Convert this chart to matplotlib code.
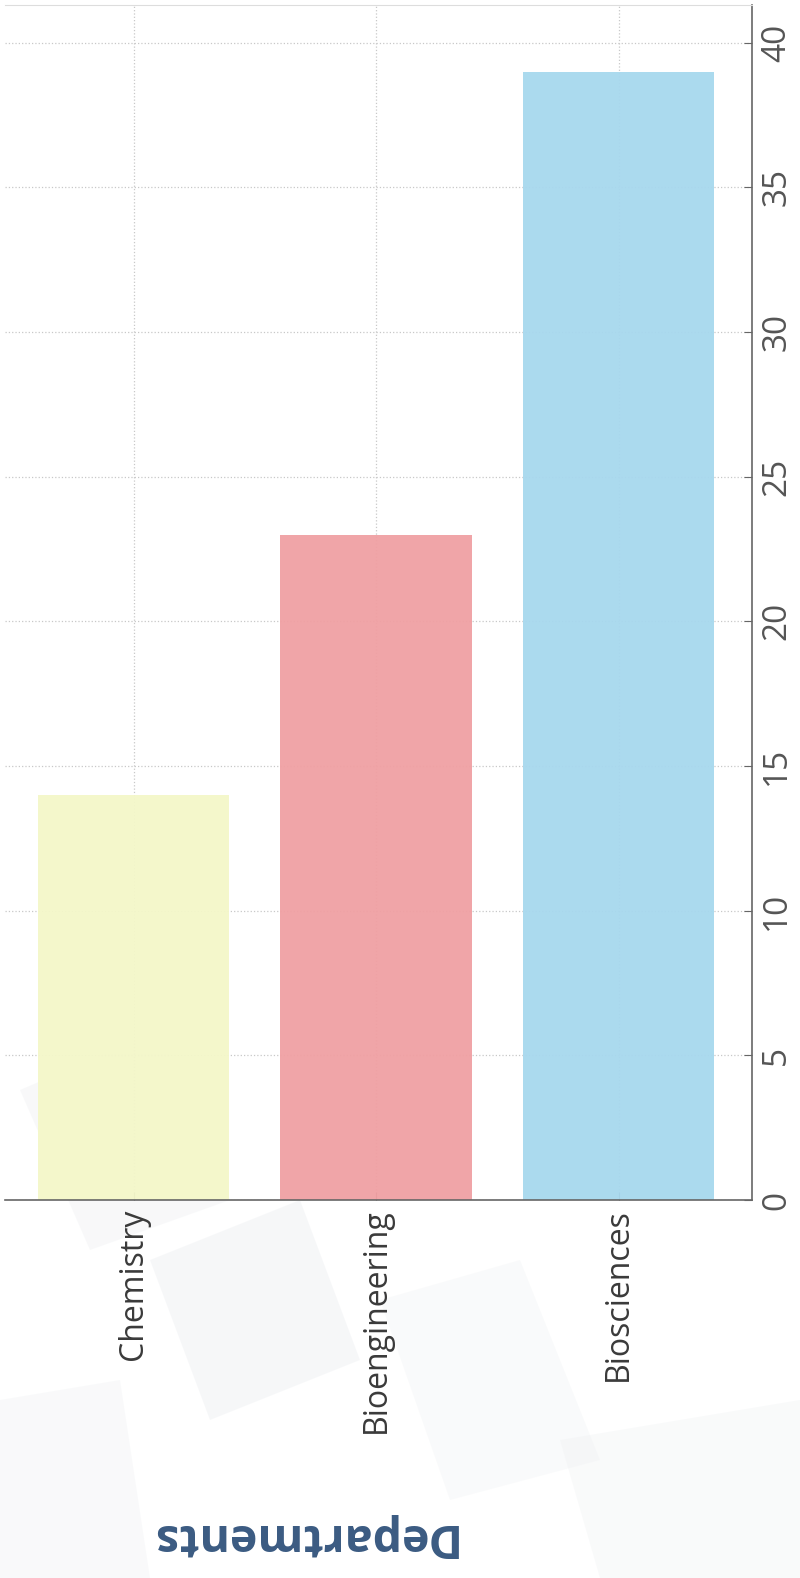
import matplotlib.pyplot as plt
from matplotlib.patches import Polygon

departments = ["Chemistry", "Bioengineering", "Biosciences"]
counts = [14, 23, 39]
bar_colors = ["#f4f7c9", "#f0a0a3", "#a7d8ee"]
value_ticks = [0, 5, 10, 15, 20, 25, 30, 35, 40]

plt.rcParams["font.family"] = ["Open Sans", "DejaVu Sans"]

fig = plt.figure(figsize=(8.0, 15.78), dpi=100)
fig.patch.set_facecolor("white")

# faint background shapes
bg = fig.add_axes([0, 0, 1, 1], zorder=-1)
bg.set_xlim(0, 800)
bg.set_ylim(1578, 0)
bg.axis("off")
for pts, c in [
    ([(20, 1090), (160, 1030), (230, 1200), (90, 1250)], "#e9ebee"),
    ([(150, 1260), (300, 1200), (360, 1360), (210, 1420)], "#e4e7eb"),
    ([(380, 1300), (520, 1260), (600, 1460), (450, 1500)], "#eef0f2"),
    ([(0, 1400), (120, 1380), (150, 1578), (0, 1578)], "#eceef1"),
    ([(560, 1440), (800, 1400), (800, 1578), (600, 1578)], "#edeff1"),
]:
    bg.add_patch(Polygon(pts, closed=True, color=c, alpha=0.3, lw=0))

ax = fig.add_axes([0.00625, 0.2395, 0.93375, 0.7573])
ax.patch.set_alpha(0)
x = list(range(len(departments)))
ax.bar(x, counts, width=0.79, color=bar_colors, zorder=2, alpha=0.95)

ax.set_xlim(-0.53, 2.55)
ax.set_ylim(0, 41.3)
ax.set_xticks(x)
ax.set_xticklabels(departments, rotation=90, fontsize=23, color="#3a3a3a")
ax.set_yticks(value_ticks)
ax.set_yticklabels([str(v) for v in value_ticks], rotation=90, fontsize=24,
                   color="#555555", va="center")
ax.yaxis.tick_right()
ax.tick_params(direction="in", length=6, color="#666666", pad=6)

ax.grid(True, linestyle=":", color="#c8c8c8", linewidth=0.9, zorder=0)
ax.spines["left"].set_visible(False)
ax.spines["top"].set_color("#dddddd")
ax.spines["right"].set_color("#666666")
ax.spines["bottom"].set_color("#666666")
ax.spines["right"].set_linewidth(1.2)
ax.spines["bottom"].set_linewidth(1.2)

fig.text(0.376, 0.026, "Departments", rotation=180, fontsize=33.5,
         fontweight="bold", color="#3b5b82", ha="center", va="center")

fig.savefig("out.png", dpi=100)
